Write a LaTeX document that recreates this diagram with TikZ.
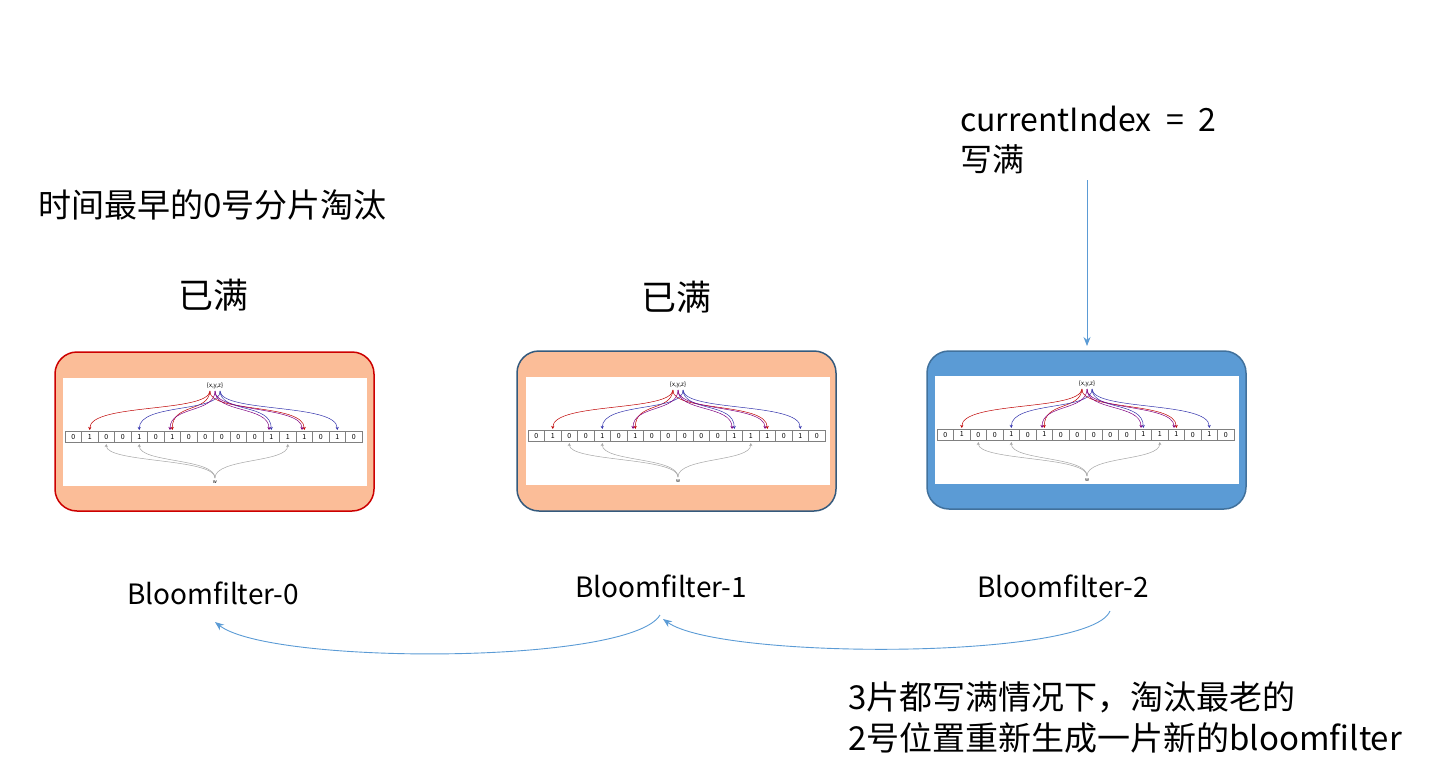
\documentclass[tikz,border=0pt]{standalone}
\usepackage{fontspec}
\setmainfont{Noto Sans CJK SC}
\usetikzlibrary{arrows.meta}
\definecolor{peach}{HTML}{FBBD98}
\definecolor{bluefill}{HTML}{5B9BD5}
\definecolor{bluedark}{HTML}{41719C}
\definecolor{arr}{HTML}{5B9BD5}
\tikzset{
 box/.style={rounded corners=22pt,line width=1.5pt},
 lab/.style={font=\fontsize{28}{32}\selectfont,anchor=center},
 big/.style={font=\fontsize{33}{38}\selectfont},
 con/.style={draw=arr,line width=0.9pt,-{Stealth[length=9pt,width=7pt]}},
 bf/.style={line width=0.5pt,-{Stealth[length=3pt,width=3pt]}}
}
\newcommand{\bfimg}{%
 \fill[white] (0,0) rectangle (304,108);
 \foreach \b [count=\i from 0] in {0,1,0,0,1,0,1,0,0,0,0,0,1,1,1,0,1,0}{
   \draw[gray,line width=0.4pt] (2+\i*16.5,53) rectangle (18.5+\i*16.5,64);
   \node[font=\fontsize{7}{7}\selectfont] at (10.25+\i*16.5,58.5) {\b};}
 \node[font=\fontsize{6}{6}\selectfont] at (152,8) {\{x,y,z\}};
 \foreach \c in {1,6,14}{\draw[bf,red!75!black] (147,13) .. controls (145,35) and (10.25+\c*16.5,25) .. (10.25+\c*16.5,52);}
 \foreach \c in {4,12,16}{\draw[bf,blue!60!black!80] (157,13) .. controls (158,35) and (10.25+\c*16.5,25) .. (10.25+\c*16.5,52);}
 \foreach \c in {6,12,14}{\draw[bf,violet] (152,13) .. controls (152,35) and (8+\c*16.5,28) .. (8+\c*16.5,52);}
 \foreach \c in {2,4,13}{\draw[bf,gray!70] (152,100) .. controls (152,80) and (10.25+\c*16.5,85) .. (10.25+\c*16.5,66);}
 \node[font=\fontsize{5}{5}\selectfont] at (152,104) {w};
}
\begin{document}
\begin{tikzpicture}[x=1pt,y=-1pt]
\useasboundingbox (0,0) rectangle (1430,771);
\node[big,anchor=west,inner sep=0] (t0) at (38,205) {时间最早的0号分片淘汰};
\node[font=\fontsize{35}{40}\selectfont] (f0) at (213,295) {已满};
\node[font=\fontsize{35}{40}\selectfont] (f1) at (676,297) {已满};
\node[font=\fontsize{32}{40}\selectfont,anchor=north west,align=left,inner sep=0] (ci) at (960,106) {currentIndex\ \ =\ \ 2\\写满};
\draw[box,draw=red!80!black,fill=peach] (55,352) rectangle (374,511);
\draw[box,draw=bluedark!80!black,fill=peach] (517,351) rectangle (836,511);
\draw[box,draw=bluedark,fill=bluefill] (927,351) rectangle (1246,509);
\coordinate (b2top) at (1087,346);
\coordinate (citop) at (1087,180);
\begin{scope}[shift={(63,378)}]\bfimg\end{scope}
\begin{scope}[shift={(526,377)}]\bfimg\end{scope}
\begin{scope}[shift={(935,376)}]\bfimg\end{scope}
\node[lab] (l0) at (213,593) {Bloomfilter-0};
\node[lab] (l1) at (661,586) {Bloomfilter-1};
\node[lab] (l2) at (1063,586) {Bloomfilter-2};
\draw[con] (citop) -- (b2top);
\coordinate (a2) at (1110,611);
\coordinate (a1) at (663,619);
\coordinate (a1s) at (660,615);
\coordinate (a0) at (215,622);
\draw[con] (a2) .. controls (1090,660) and (720,660) .. (a1);
\draw[con] (a1s) .. controls (630,665) and (270,665) .. (a0);
\node[font=\fontsize{33}{41}\selectfont,anchor=north west,align=left,inner sep=0] (bt) at (848,681) {3片都写满情况下，淘汰最老的\\2号位置重新生成一片新的bloomfilter};
\end{tikzpicture}
\end{document}
